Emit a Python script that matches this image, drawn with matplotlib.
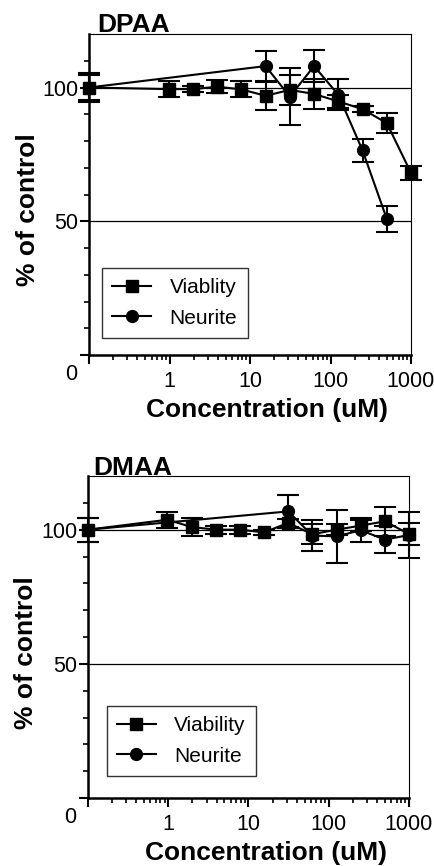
import matplotlib
matplotlib.use("Agg")
import matplotlib.pyplot as plt
from matplotlib.lines import Line2D
from matplotlib.ticker import FixedLocator, NullFormatter, LogLocator

plt.rcParams['font.family'] = ['Liberation Sans', 'DejaVu Sans']

# ---------------- data ----------------
doses = [0, 0.977, 1.95, 3.91, 7.81, 15.6, 31.25, 62.5, 125, 250, 500, 1000]

dpaa_via = [100, 99.4, 99.4, 100.3, 99.3, 96.9, 99.1, 97.6, 94.8, 91.9, 86.7, 68.1]
dpaa_via_err = [4.5, 3.0, 1.0, 2.5, 3.0, 5.2, 5.5, 5.6, 2.5, 1.0, 3.6, 2.5]
dpaa_neu_doses = [0, 15.6, 31.25, 62.5, 125, 250, 500]
dpaa_neu = [100, 108, 96.6, 108, 97.3, 76.5, 50.9]
dpaa_neu_err = [5.6, 5.6, 10.8, 6.0, 5.8, 4.4, 4.9]

dmaa_via = [100, 103.7, 101.0, 100, 100, 99.0, 102.5, 98.3, 100, 101.5, 103.1, 98.4]
dmaa_via_err = [4.5, 3.0, 3.2, 1.5, 1.5, 1.0, 1.5, 3.7, 2.0, 2.0, 5.4, 4.0]
dmaa_neu_doses = [0, 31.25, 62.5, 125, 250, 500, 1000]
dmaa_neu = [100, 106.8, 97.8, 97.5, 99.8, 96.3, 98.0]
dmaa_neu_err = [4.5, 6.3, 5.9, 10.0, 4.5, 5.0, 8.4]

panel_titles = ["DPAA", "DMAA"]
legend_labels = [["Viablity", "Neurite"], ["Viability", "Neurite"]]
xtick_vals = [1, 10, 100, 1000]
xtick_labels = ["1", "10", "100", "1000"]
zero_label = "0"
ytick_vals = [0, 50, 100]
ytick_labels = ["", "50", "100"]
xlabel = "Concentration (uM)"
ylabel = "% of control"

XMIN, XMAX = 0.1, 1000
YMIN, YMAX = 0, 120
W, H = 435, 866


def xpos(d):
    return [XMIN if v == 0 else v for v in d]


fig = plt.figure(figsize=(W / 100, H / 100), dpi=100)
axes_rects = [
    [89 / W, 1 - 355 / H, 322 / W, 321 / H],
    [88 / W, 1 - 798 / H, 321 / W, 322 / H],
]
title_pos = [(0.025, 1.005), (0.015, 1.002)]
legend_anchor = [(0.040, 0.053), (0.058, 0.068)]
ylabel_px = [(28, 210), (26, 653)]
xlabel_px = [(267, 410), (266, 853)]

datasets = [
    (dpaa_via, dpaa_via_err, dpaa_neu_doses, dpaa_neu, dpaa_neu_err),
    (dmaa_via, dmaa_via_err, dmaa_neu_doses, dmaa_neu, dmaa_neu_err),
]

for i, rect in enumerate(axes_rects):
    ax = fig.add_axes(rect)
    via, via_err, ndoses, neu, neu_err = datasets[i]

    ax.axhline(100, color='black', lw=0.9, zorder=1)
    ax.axhline(50, color='black', lw=0.9, zorder=1)

    ax.errorbar(xpos(ndoses), neu, yerr=neu_err, color='black', marker='o',
                markersize=8.5, lw=1.5, elinewidth=1.5, capsize=8, capthick=1.5,
                zorder=3, clip_on=False)
    ax.errorbar(xpos(doses), via, yerr=via_err, color='black', marker='s',
                markersize=8.5, lw=1.5, elinewidth=1.5, capsize=8, capthick=1.5,
                zorder=4, clip_on=False)

    ax.set_xscale('log')
    ax.set_xlim(XMIN, XMAX)
    ax.set_ylim(YMIN, YMAX)

    ax.xaxis.set_major_locator(FixedLocator([XMIN] + xtick_vals))
    ax.set_xticklabels([""] + xtick_labels, fontsize=15.5)
    ax.xaxis.set_minor_locator(LogLocator(base=10, subs=range(2, 10)))
    ax.xaxis.set_minor_formatter(NullFormatter())

    ax.set_yticks(ytick_vals)
    ax.set_yticklabels(ytick_labels, fontsize=15.5)
    ax.set_yticks([10, 20, 30, 40, 60, 70, 80, 90, 110], minor=True)

    ax.tick_params(axis='both', which='major', direction='out', length=6.5,
                   width=1.5, pad=1, top=False, right=False)
    ax.tick_params(axis='x', which='major', pad=5)
    ax.tick_params(axis='both', which='minor', direction='out', length=3.5,
                   width=1.2, top=False, right=False)

    for s in ['left', 'bottom']:
        ax.spines[s].set_linewidth(1.8)
    for s in ['top', 'right']:
        ax.spines[s].set_linewidth(0.8)

    ax.text(-0.056, -0.062, zero_label, transform=ax.transAxes, fontsize=15.5,
            ha='center', va='center')

    fig.text(xlabel_px[i][0] / W, 1 - xlabel_px[i][1] / H, xlabel, fontsize=19,
             fontweight='bold', ha='center', va='center')
    fig.text(ylabel_px[i][0] / W, 1 - ylabel_px[i][1] / H, ylabel, fontsize=19,
             fontweight='bold', ha='center', va='center', rotation=90)

    ax.text(title_pos[i][0], title_pos[i][1], panel_titles[i], transform=ax.transAxes,
            fontsize=19, fontweight='bold', ha='left', va='baseline')

    handles = [
        Line2D([], [], color='black', lw=1.5, marker='s', markersize=8.5),
        Line2D([], [], color='black', lw=1.5, marker='o', markersize=8.5),
    ]
    leg = ax.legend(handles, legend_labels[i], loc='lower left',
                    bbox_to_anchor=legend_anchor[i], borderaxespad=0,
                    fontsize=15, frameon=True, fancybox=False, edgecolor='black',
                    handlelength=1.85, labelspacing=0.55, borderpad=0.5,
                    handletextpad=0.9)
    leg.get_frame().set_linewidth(1.0)

fig.savefig("out.png", dpi=100)
